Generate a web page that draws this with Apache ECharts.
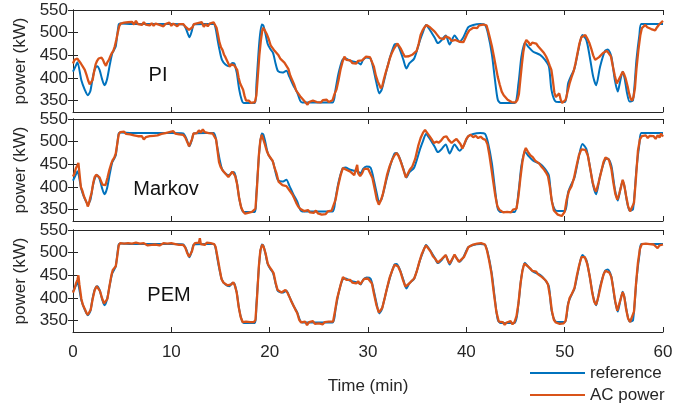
<!DOCTYPE html>
<html>
<head>
<meta charset="utf-8">
<script src="https://cdn.jsdelivr.net/npm/echarts@6/dist/echarts.min.js"></script>
<style>
  html, body { margin: 0; padding: 0; background: #fff; }
  #chart { width: 694px; height: 407px; }
</style>
</head>
<body>
<div id="chart"></div>
<script>
// Time axis (min) and power ticks (kW)
const timeTicks = [0, 10, 20, 30, 40, 50, 60];
const powerTicks = [350, 400, 450, 500, 550];
const panelNames = ['PI', 'Markov', 'PEM'];
const seriesNames = ['reference', 'AC power'];

// Reference power profile [time (min), power (kW)]
const refPower = [
  [0,414],[0.3,428],[0.45,435],[0.85,395],[1.2,374],[1.5,362],[1.75,370],[2.0,400],[2.2,418],[2.45,426],
  [2.7,418],[2.95,398],[3.2,384],[3.45,396],[3.75,430],[4.0,455],[4.2,463],[4.35,470],[4.5,495],[4.65,518],
  [4.8,520],[6,519],[8,519],[10,519],[11.2,518],[11.5,508],[11.85,490],[12.1,505],[12.3,518],[13.5,519],
  [14.3,519],[14.5,510],[14.7,485],[14.9,462],[15.15,440],[15.5,430],[15.9,426],[16.2,433],[16.4,432],[16.65,412],
  [16.9,375],[17.15,352],[17.35,345],[18.5,345],[18.65,385],[18.95,480],[19.2,518],[19.35,516],[19.55,500],[19.8,475],
  [20.1,463],[20.35,455],[20.6,432],[20.85,415],[21.3,412],[21.7,416],[22.0,403],[22.4,384],[22.8,368],[23.1,350],
  [23.3,346],[25,346],[26.4,346],[26.7,375],[27.0,410],[27.4,440],[27.7,443],[28.2,438],[28.6,436],[29.0,434],
  [29.25,430],[29.5,440],[29.85,445],[30.25,443],[30.5,425],[30.85,390],[31.15,366],[31.4,375],[31.9,418],[32.3,450],
  [32.7,474],[32.9,475],[33.2,465],[33.6,440],[33.9,421],[34.2,432],[34.7,443],[35.3,484],[35.6,502],[35.9,517],
  [36.3,506],[36.8,488],[37.1,477],[37.5,484],[37.9,494],[38.3,474],[38.8,494],[39.3,480],[39.7,490],[40.2,512],
  [40.7,517],[41.4,519],[41.9,517],[42.2,498],[42.6,452],[42.9,398],[43.2,352],[43.5,345],[44.9,345],[45.3,388],
  [45.6,447],[45.95,478],[46.3,469],[46.8,458],[47.5,451],[48.0,440],[48.4,425],[48.65,375],[49.0,350],[49.4,347],
  [50.05,347],[50.35,388],[50.7,407],[51.0,421],[51.4,462],[51.8,495],[52.2,484],[52.55,447],[52.9,403],[53.2,384],
  [53.6,425],[54.1,460],[54.4,463],[54.75,447],[55.1,396],[55.4,370],[55.6,388],[55.9,414],[56.1,399],[56.35,366],
  [56.6,348],[56.95,351],[57.3,440],[57.6,495],[57.8,519],[59,519],[60,519]
];

// Measured AC power under PI control
const acPI = [
  [0,432],[0.15,440],[0.3,436],[0.45,443],[0.6,438],[0.8,432],[1.0,425],[1.2,418],[1.4,405],[1.55,394],
  [1.7,386],[1.85,383],[2.0,396],[2.15,415],[2.3,430],[2.45,438],[2.6,443],[2.75,447],[2.9,445],[3.05,440],
  [3.2,432],[3.35,427],[3.5,435],[3.65,440],[3.8,448],[3.95,455],[4.1,460],[4.25,470],[4.4,484],[4.55,500],
  [4.7,514],[4.85,520],[5.0,516],[5.2,522],[5.4,518],[5.6,523],[5.8,519],[6.0,524],[6.2,518],[6.4,526],
  [6.6,519],[6.8,522],[7.0,517],[7.2,523],[7.4,518],[7.6,522],[7.8,516],[8.0,521],[8.2,515],[8.4,520],
  [8.6,524],[8.8,517],[9.0,521],[9.2,514],[9.4,519],[9.6,516],[9.8,522],[10.0,515],[10.2,520],[10.4,518],
  [10.6,514],[10.8,519],[11.0,515],[11.2,519],[11.4,514],[11.6,510],[11.8,506],[12.0,505],[12.15,512],[12.3,519],
  [12.5,515],[12.7,521],[12.9,517],[13.1,523],[13.3,513],[13.5,519],[13.7,514],[13.9,520],[14.1,516],[14.3,523],
  [14.45,519],[14.6,511],[14.75,495],[14.9,478],[15.05,468],[15.2,462],[15.35,452],[15.5,446],[15.65,442],[15.8,432],
  [15.95,425],[16.1,430],[16.25,433],[16.4,428],[16.55,432],[16.7,418],[16.85,400],[17.0,388],[17.15,384],[17.3,374],
  [17.45,360],[17.6,350],[17.75,347],[17.9,350],[18.1,345],[18.3,349],[18.5,347],[18.65,362],[18.8,405],[18.95,450],
  [19.1,482],[19.25,505],[19.35,511],[19.5,505],[19.7,497],[19.9,486],[20.1,472],[20.3,466],[20.5,460],[20.7,455],
  [20.9,450],[21.1,442],[21.3,446],[21.5,434],[21.7,430],[21.9,420],[22.1,405],[22.3,395],[22.5,385],[22.7,372],
  [22.9,366],[23.1,360],[23.3,355],[23.5,350],[23.7,346],[23.85,341],[24.0,347],[24.2,343],[24.4,350],[24.6,352],
  [24.8,347],[25.0,350],[25.2,346],[25.4,351],[25.6,348],[25.8,352],[26.0,347],[26.2,350],[26.4,351],[26.6,365],
  [26.8,375],[27.0,395],[27.2,418],[27.4,435],[27.6,447],[27.8,440],[28.0,436],[28.2,439],[28.4,433],[28.6,437],
  [28.8,432],[29.0,438],[29.2,434],[29.4,439],[29.6,442],[29.8,447],[30.0,445],[30.2,446],[30.4,445],[30.6,425],
  [30.8,405],[31.0,392],[31.15,385],[31.3,377],[31.45,382],[31.6,396],[31.8,412],[32.0,426],[32.2,442],[32.4,454],
  [32.6,463],[32.8,470],[33.0,476],[33.15,474],[33.35,464],[33.55,455],[33.75,447],[33.95,446],[34.15,448],[34.35,446],
  [34.55,452],[34.75,455],[34.95,460],[35.15,475],[35.35,495],[35.55,505],[35.75,512],[35.95,517],[36.1,514],[36.3,512],
  [36.5,508],[36.7,504],[36.9,499],[37.1,496],[37.3,488],[37.5,490],[37.7,486],[37.9,492],[38.1,496],[38.3,488],
  [38.5,482],[38.7,480],[38.9,484],[39.1,486],[39.3,480],[39.5,483],[39.7,479],[39.9,488],[40.1,498],[40.3,505],
  [40.5,509],[40.7,511],[40.9,513],[41.1,510],[41.3,516],[41.5,514],[41.7,518],[41.9,520],[42.05,516],[42.2,505],
  [42.4,488],[42.6,470],[42.8,448],[43.0,425],[43.2,402],[43.4,385],[43.6,370],[43.8,362],[44.0,357],[44.2,352],
  [44.4,350],[44.6,347],[44.8,349],[45.0,346],[45.2,352],[45.35,365],[45.5,398],[45.65,430],[45.8,458],[45.95,476],
  [46.1,484],[46.2,488],[46.35,478],[46.5,472],[46.7,478],[46.9,481],[47.1,476],[47.3,470],[47.5,465],[47.7,460],
  [47.9,455],[48.1,448],[48.3,438],[48.5,426],[48.65,418],[48.8,395],[48.95,368],[49.1,358],[49.3,355],[49.45,366],
  [49.6,352],[49.75,345],[49.9,343],[50.1,352],[50.3,370],[50.5,388],[50.7,402],[50.9,414],[51.1,432],[51.3,454],
  [51.5,476],[51.7,490],[51.9,492],[52.1,495],[52.3,487],[52.5,478],[52.7,465],[52.9,450],[53.1,440],[53.3,442],
  [53.5,446],[53.7,450],[53.9,455],[54.1,458],[54.3,460],[54.5,462],[54.7,448],[54.9,426],[55.1,405],[55.3,388],
  [55.5,392],[55.7,405],[55.9,414],[56.05,408],[56.2,399],[56.4,382],[56.55,366],[56.7,355],[56.85,350],[57.0,358],
  [57.15,378],[57.3,420],[57.5,462],[57.7,495],[57.85,510],[58.0,514],[58.2,517],[58.4,512],[58.6,514],[58.8,508],
  [59.0,510],[59.2,505],[59.4,512],[59.6,518],[59.8,522],[60,526]
];

// Measured AC power under Markov control
const acMarkov = [
  [0,423],[0.15,430],[0.3,442],[0.45,448],[0.55,453],[0.65,432],[0.8,400],[0.95,392],[1.1,380],[1.25,376],
  [1.4,365],[1.5,357],[1.6,362],[1.75,376],[1.9,388],[2.05,408],[2.2,422],[2.35,427],[2.5,424],[2.7,421],
  [2.85,413],[3.0,405],[3.15,401],[3.3,404],[3.5,420],[3.7,438],[3.9,452],[4.05,460],[4.2,465],[4.35,474],
  [4.5,495],[4.65,516],[4.8,521],[5.0,518],[5.2,522],[5.4,517],[5.6,520],[5.8,516],[6.0,519],[6.2,514],
  [6.4,517],[6.6,512],[6.8,509],[7.0,512],[7.2,505],[7.4,510],[7.6,507],[7.8,512],[8.0,508],[8.2,513],
  [8.4,509],[8.6,514],[8.8,512],[9.0,517],[9.2,514],[9.4,519],[9.6,516],[9.8,521],[10.0,517],[10.2,523],
  [10.4,518],[10.6,520],[10.8,516],[11.0,519],[11.2,515],[11.4,510],[11.6,500],[11.8,490],[11.95,492],[12.1,505],
  [12.25,518],[12.4,522],[12.6,519],[12.8,525],[13.0,520],[13.2,527],[13.4,521],[13.6,524],[13.8,519],[14.0,523],
  [14.2,518],[14.4,520],[14.55,505],[14.7,480],[14.85,455],[15.0,445],[15.2,437],[15.4,432],[15.6,428],[15.8,422],
  [16.0,426],[16.2,434],[16.35,436],[16.5,424],[16.7,405],[16.9,375],[17.1,355],[17.3,346],[17.5,341],[17.65,338],
  [17.8,343],[18.0,340],[18.2,345],[18.4,344],[18.55,352],[18.7,395],[18.9,470],[19.05,503],[19.2,515],[19.35,512],
  [19.5,495],[19.7,480],[19.9,470],[20.1,466],[20.3,458],[20.5,442],[20.7,430],[20.9,412],[21.1,408],[21.3,404],
  [21.5,407],[21.7,402],[21.9,398],[22.1,390],[22.3,384],[22.5,375],[22.7,365],[22.9,357],[23.1,352],[23.3,350],
  [23.5,347],[23.7,345],[23.9,349],[24.1,344],[24.3,347],[24.5,343],[24.7,348],[24.9,342],[25.1,345],[25.3,339],
  [25.5,343],[25.7,340],[25.9,346],[26.1,343],[26.3,348],[26.5,350],[26.7,372],[26.95,401],[27.2,425],[27.45,442],
  [27.6,445],[27.8,438],[28.0,436],[28.2,434],[28.4,430],[28.6,426],[28.75,424],[28.9,449],[29.0,430],[29.2,424],
  [29.4,430],[29.6,440],[29.8,443],[30.0,440],[30.2,438],[30.45,420],[30.7,394],[30.9,372],[31.1,361],[31.3,370],
  [31.5,383],[31.7,403],[31.95,428],[32.2,446],[32.45,460],[32.7,470],[32.9,475],[33.1,469],[33.35,455],[33.6,438],
  [33.85,421],[34.05,424],[34.25,438],[34.5,445],[34.8,462],[35.1,490],[35.35,508],[35.6,520],[35.8,526],[36.0,522],
  [36.2,514],[36.45,506],[36.7,497],[36.95,500],[37.2,498],[37.45,503],[37.7,510],[37.98,512],[38.2,504],[38.5,497],
  [38.75,502],[39.0,506],[39.2,503],[39.4,495],[39.6,485],[39.8,495],[40.0,506],[40.2,512],[40.45,515],[40.7,510],
  [40.95,513],[41.2,508],[41.45,511],[41.7,506],[41.95,504],[42.15,494],[42.35,470],[42.55,440],[42.75,410],[42.95,380],
  [43.15,358],[43.35,350],[43.55,346],[43.75,344],[43.95,348],[44.15,345],[44.35,349],[44.55,344],[44.75,350],[44.95,346],
  [45.1,352],[45.3,380],[45.5,420],[45.7,455],[45.9,478],[46.05,486],[46.25,478],[46.5,470],[46.75,466],[47.0,458],
  [47.2,460],[47.4,452],[47.6,446],[47.85,440],[48.1,432],[48.3,424],[48.5,400],[48.7,368],[48.9,348],[49.1,344],
  [49.3,339],[49.5,342],[49.7,336],[49.85,332],[50.0,345],[50.2,372],[50.45,392],[50.7,402],[50.95,420],[51.2,446],
  [51.45,470],[51.7,483],[51.9,487],[52.1,482],[52.35,470],[52.6,440],[52.85,410],[53.05,395],[53.2,390],[53.45,410],
  [53.7,432],[53.95,455],[54.15,465],[54.3,468],[54.5,460],[54.75,440],[54.95,410],[55.15,385],[55.35,372],[55.55,385],
  [55.75,402],[55.9,416],[56.05,405],[56.25,380],[56.45,358],[56.65,346],[56.85,343],[57.05,365],[57.25,420],[57.45,480],
  [57.65,505],[57.85,512],[58.05,510],[58.25,514],[58.45,508],[58.65,513],[58.85,509],[59.05,512],[59.25,506],[59.45,514],
  [59.65,509],[59.8,518],[60,511]
];

// Measured AC power under PEM control
const acPEM = [
  [0,412],[0.15,420],[0.3,432],[0.45,440],[0.55,450],[0.65,430],[0.85,398],[1.0,385],[1.2,376],[1.35,368],
  [1.5,363],[1.65,366],[1.8,374],[2.0,398],[2.2,417],[2.4,426],[2.55,424],[2.75,415],[2.95,400],[3.15,388],
  [3.3,385],[3.5,398],[3.7,425],[3.9,450],[4.05,462],[4.2,465],[4.35,470],[4.5,492],[4.65,516],[4.8,521],
  [5.0,518],[5.2,520],[5.4,517],[5.6,521],[5.8,518],[6.0,520],[6.2,517],[6.4,522],[6.6,518],[6.8,520],
  [7.0,517],[7.2,521],[7.4,518],[7.6,516],[7.8,520],[8.0,517],[8.2,521],[8.4,518],[8.6,520],[8.8,516],
  [9.0,519],[9.2,521],[9.4,517],[9.6,520],[9.8,518],[10.0,521],[10.2,517],[10.4,519],[10.6,522],[10.8,517],
  [11.0,520],[11.2,517],[11.4,512],[11.6,500],[11.8,491],[11.95,492],[12.1,503],[12.25,516],[12.4,521],[12.6,518],
  [12.8,522],[12.9,532],[13.0,519],[13.2,521],[13.4,517],[13.6,522],[13.8,518],[14.0,521],[14.2,517],[14.35,519],
  [14.5,513],[14.7,490],[14.9,465],[15.1,442],[15.3,434],[15.5,430],[15.7,428],[15.9,425],[16.1,430],[16.3,435],
  [16.45,428],[16.65,412],[16.85,380],[17.05,358],[17.25,347],[17.45,345],[17.6,348],[17.8,344],[18.0,347],[18.2,343],
  [18.4,347],[18.55,352],[18.7,395],[18.9,470],[19.05,505],[19.25,518],[19.4,512],[19.6,497],[19.8,476],[20.0,468],
  [20.2,462],[20.4,455],[20.6,434],[20.8,418],[21.0,414],[21.2,412],[21.4,415],[21.6,418],[21.8,412],[22.0,403],
  [22.2,393],[22.4,384],[22.6,375],[22.8,367],[23.0,352],[23.2,346],[23.4,343],[23.6,348],[23.8,340],[24.0,347],
  [24.2,344],[24.4,349],[24.6,343],[24.8,347],[25.0,344],[25.2,348],[25.4,342],[25.6,347],[25.8,344],[26.0,348],
  [26.2,345],[26.45,348],[26.65,372],[26.85,398],[27.05,415],[27.25,432],[27.45,446],[27.6,443],[27.8,440],[28.0,437],
  [28.2,440],[28.4,434],[28.6,438],[28.8,432],[29.0,437],[29.2,430],[29.4,436],[29.6,442],[29.8,445],[30.0,443],
  [30.2,444],[30.4,432],[30.6,410],[30.85,385],[31.1,368],[31.25,365],[31.45,378],[31.7,400],[31.95,423],[32.2,445],
  [32.45,460],[32.7,473],[32.85,476],[33.05,470],[33.3,458],[33.55,440],[33.8,425],[34.0,422],[34.2,432],[34.45,438],
  [34.7,443],[34.95,458],[35.2,478],[35.45,496],[35.7,508],[35.9,516],[36.1,512],[36.35,503],[36.6,492],[36.85,486],
  [37.1,478],[37.3,482],[37.5,486],[37.7,490],[37.9,495],[38.1,484],[38.3,476],[38.55,485],[38.8,496],[39.0,488],
  [39.25,480],[39.5,485],[39.75,490],[40.0,502],[40.2,512],[40.45,515],[40.7,518],[40.9,514],[41.1,520],[41.3,516],
  [41.5,521],[41.7,517],[41.9,518],[42.1,505],[42.3,485],[42.55,455],[42.8,410],[43.05,370],[43.3,348],[43.5,344],
  [43.7,347],[43.9,341],[44.1,346],[44.3,343],[44.5,349],[44.7,342],[44.9,347],[45.1,360],[45.3,388],[45.5,430],
  [45.7,460],[45.9,476],[46.05,478],[46.25,470],[46.5,465],[46.7,460],[46.9,456],[47.1,458],[47.3,452],[47.5,450],
  [47.7,446],[47.9,442],[48.1,438],[48.3,430],[48.5,405],[48.7,372],[48.9,352],[49.1,346],[49.3,348],[49.5,343],
  [49.7,347],[49.9,344],[50.1,350],[50.3,380],[50.5,400],[50.75,410],[51.0,422],[51.2,445],[51.45,470],[51.7,490],
  [51.85,494],[52.05,490],[52.3,475],[52.55,448],[52.8,412],[53.0,392],[53.2,385],[53.45,405],[53.7,430],[53.95,452],
  [54.15,460],[54.35,463],[54.55,456],[54.75,446],[54.95,420],[55.15,392],[55.35,372],[55.5,376],[55.7,398],[55.9,413],
  [56.05,404],[56.25,375],[56.45,355],[56.65,347],[56.85,349],[57.05,370],[57.25,430],[57.45,478],[57.65,508],[57.85,519],
  [58.05,517],[58.25,520],[58.45,516],[58.65,519],[58.85,515],[59.05,518],[59.25,514],[59.45,510],[59.65,516],[59.85,520],
  [60,518]
];

const acSeries = [acPI, acMarkov, acPEM];

const BLUE = '#0072BD';
const ORANGE = '#D95319';
const INK = '#262626';
const FONT = '"Liberation Sans", Arial, Helvetica, sans-serif';

const panelTops = [10, 119, 230];
const panelHeight = 102;
const panelLabelPos = [[158, 75], [166, 189], [169, 295]];

const grids = [], xAxes = [], yAxes = [], series = [], texts = [];

panelTops.forEach((top, g) => {
  grids.push({ left: 73, right: 31, top: top, height: panelHeight });
  const isLast = g === panelTops.length - 1;
  const tickStyle = { show: true, inside: true, length: 5, lineStyle: { color: INK, width: 1 } };
  const lineStyle = { show: true, lineStyle: { color: INK, width: 1 } };
  // bottom and top x axes (the top one only closes the box)
  ['bottom', 'top'].forEach((pos, k) => {
    xAxes.push({
      type: 'value', gridIndex: g, position: pos, min: 0, max: 60, interval: 10,
      axisLine: lineStyle, axisTick: tickStyle, splitLine: { show: false },
      axisLabel: {
        show: isLast && k === 0, color: INK, fontSize: 17, fontFamily: FONT, margin: 12,
        customValues: timeTicks
      },
      name: isLast && k === 0 ? 'Time (min)' : '',
      nameLocation: 'middle', nameGap: 46,
      nameTextStyle: { color: INK, fontSize: 17, fontFamily: FONT }
    });
  });
  // left and right y axes
  ['left', 'right'].forEach((pos, k) => {
    yAxes.push({
      type: 'value', gridIndex: g, position: pos, min: 325, max: 550,
      axisLine: lineStyle,
      axisTick: Object.assign({}, tickStyle, { customValues: powerTicks }),
      splitLine: { show: false },
      axisLabel: {
        show: k === 0, color: INK, fontSize: 17, fontFamily: FONT, margin: 5,
        customValues: powerTicks, showMinLabel: true, showMaxLabel: true
      },
      name: k === 0 ? 'power (kW)' : '',
      nameLocation: 'middle', nameGap: 44,
      nameTextStyle: { color: INK, fontSize: 17, fontFamily: FONT }
    });
  });

  series.push({
    type: 'line', name: seriesNames[0], xAxisIndex: 2 * g, yAxisIndex: 2 * g,
    data: refPower, showSymbol: false, smooth: 0.25, z: 2,
    lineStyle: { color: BLUE, width: 2 }, itemStyle: { color: BLUE }
  });
  series.push({
    type: 'line', name: seriesNames[1], xAxisIndex: 2 * g, yAxisIndex: 2 * g,
    data: acSeries[g], showSymbol: false, z: 3,
    lineStyle: { color: ORANGE, width: 2.3 }, itemStyle: { color: ORANGE }
  });

  texts.push({
    type: 'text', x: panelLabelPos[g][0], y: panelLabelPos[g][1],
    style: {
      text: panelNames[g], fill: '#111', fontSize: 20, fontFamily: FONT,
      align: 'center', verticalAlign: 'middle'
    }
  });
});

const chart = echarts.init(document.getElementById('chart'), null, { renderer: 'canvas' });
chart.setOption({
  animation: false,
  backgroundColor: '#fff',
  grid: grids,
  xAxis: xAxes,
  yAxis: yAxes,
  series: series,
  graphic: texts,
  legend: {
    data: seriesNames.map(n => ({ name: n, icon: 'rect' })),
    orient: 'vertical', left: 530, top: 363, padding: 0,
    itemWidth: 55, itemHeight: 2, itemGap: 2,
    textStyle: { color: INK, fontSize: 17, fontFamily: FONT, lineHeight: 20 }
  }
});
</script>
</body>
</html>
